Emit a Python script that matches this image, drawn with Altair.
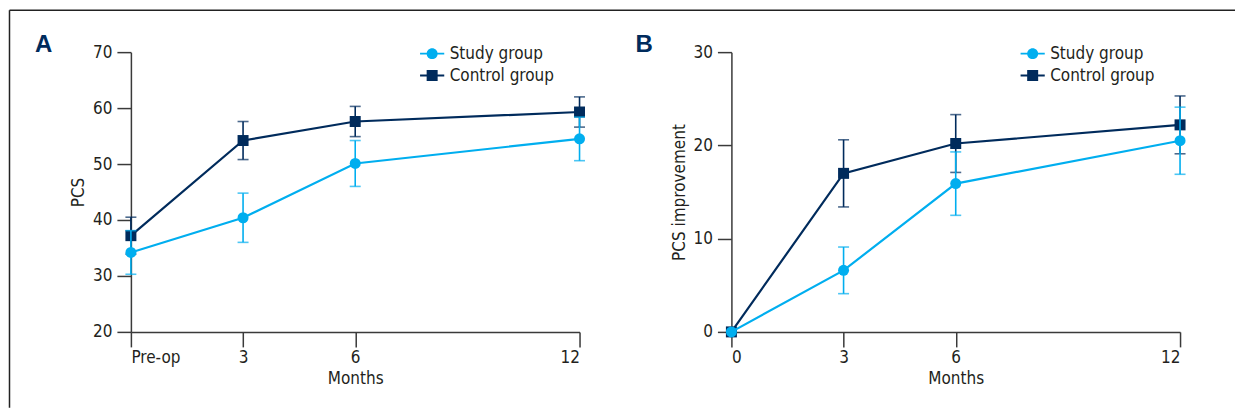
import altair as alt
import pandas as pd

# ---------------- data ----------------
months = [0, 3, 6, 12]
groups = ["Study group", "Control group"]

x_labels_A = ["Pre-op", "3", "6", "12"]
x_labels_B = ["0", "3", "6", "12"]
y_ticks_A = [20, 30, 40, 50, 60, 70]
y_ticks_B = [0, 10, 20, 30]

study_A = [34.2, 40.4, 50.1, 54.5]
study_A_err = [3.9, 4.4, 4.1, 3.9]
control_A = [37.2, 54.2, 57.6, 59.3]
control_A_err = [3.3, 3.4, 2.7, 2.7]

study_B = [0.0, 6.6, 15.9, 20.5]
study_B_err = [0.0, 2.5, 3.4, 3.6]
control_B = [0.0, 17.0, 20.2, 22.2]
control_B_err = [0.0, 3.6, 3.1, 3.1]

# ---------------- style ----------------
FONT = "'Liberation Sans Narrow', 'Noto Sans Condensed', 'DejaVu Sans Condensed', sans-serif"
FS = 17
NAVY = "#002b5c"
CYAN = "#00aeef"
AXIS = "#3a3a3a"
TEXT = "#231f20"
W, H = 449, 280

# legend symbols: line with marker (custom SVG paths)
SYM_CIRCLE = "M-2.2,-0.18H2.2V0.18H-2.2Z M1,0A1,1,0,1,1,-1,0A1,1,0,1,1,1,0Z"
SYM_SQUARE = "M-2.2,-0.18H2.2V0.18H-2.2Z M-1,-1H1V1H-1Z"


def make_df(s, se, c, ce):
    rows = []
    for g, vals, errs in ((groups[0], s, se), (groups[1], c, ce)):
        for m, v, e in zip(months, vals, errs):
            rows.append({"month": m, "value": v, "err": e, "lo": v - e, "hi": v + e, "group": g})
    return pd.DataFrame(rows)


def label_expr(labels):
    expr = "''"
    for m, lab in reversed(list(zip(months, labels))):
        expr = f"datum.value == {m} ? '{lab}' : ({expr})"
    return expr


def legend_def():
    return alt.Legend(orient="none", legendX=293, legendY=-7, title=None,
                      labelFont=FONT, labelFontSize=FS, labelColor=TEXT,
                      symbolSize=121, symbolStrokeWidth=0, labelOffset=9,
                      rowPadding=4, padding=0)


def panel(df, ydom, yticks, ytitle, xlabels, letter, border):
    xenc = alt.X(
        "month:Q",
        scale=alt.Scale(domain=[0, 12], nice=False, zero=False),
        axis=alt.Axis(values=months, labelExpr=label_expr(xlabels), title="Months",
                      tickSize=15, labelPadding=3, titlePadding=5),
    )
    yaxis = alt.Axis(values=yticks, title=ytitle, tickSize=14, labelPadding=5,
                     titlePadding=7, minExtent=36, maxExtent=36)
    yscale = alt.Scale(domain=ydom, nice=False, zero=False)
    cscale = alt.Scale(domain=groups, range=[CYAN, NAVY])
    color = alt.Color("group:N", scale=cscale, legend=None)

    base = alt.Chart(df).encode(x=xenc, y=alt.Y("value:Q", scale=yscale, axis=yaxis), color=color)

    # legend-only layer first (so its legend settings win the merge)
    legend_layer = base.transform_filter("false").mark_point(filled=True, opacity=1).encode(
        color=alt.Color("group:N", scale=cscale, legend=legend_def()),
        shape=alt.Shape("group:N", scale=alt.Scale(domain=groups, range=[SYM_CIRCLE, SYM_SQUARE]),
                        legend=legend_def()),
    )
    layers = [legend_layer]

    for g, shape in ((groups[1], "square"), (groups[0], "circle")):
        sub = base.transform_filter(alt.datum.group == g)
        err = sub.transform_filter(alt.datum.err > 0)
        layers.append(err.mark_rule(strokeWidth=1.6).encode(
            y=alt.Y("lo:Q", scale=yscale, axis=yaxis), y2="hi:Q"))
        layers.append(err.mark_tick(orient="horizontal", size=11, thickness=1.6).encode(
            y=alt.Y("lo:Q", scale=yscale, axis=yaxis)))
        layers.append(err.mark_tick(orient="horizontal", size=11, thickness=1.6).encode(
            y=alt.Y("hi:Q", scale=yscale, axis=yaxis)))
        layers.append(sub.mark_line(strokeWidth=2.2))
        layers.append(sub.mark_point(filled=True, shape=shape, size=121, opacity=1))

    one = pd.DataFrame({"k": [letter]})
    layers.append(alt.Chart(one).mark_text(fontSize=24, fontWeight="bold", color=NAVY, align="left",
                                           baseline="alphabetic", font="Liberation Sans, Arial, sans-serif").encode(
        x=alt.value(-96), y=alt.value(0), text="k:N"))

    if border:
        layers.append(alt.Chart(one).mark_rule(color="#222222", strokeWidth=1.5).encode(
            x=alt.value(-121.5), y=alt.value(-42), y2=alt.value(356)))
        layers.append(alt.Chart(one).mark_rule(color="#222222", strokeWidth=1.5).encode(
            x=alt.value(-121.5), x2=alt.value(1105), y=alt.value(-42)))

    return alt.layer(*layers).properties(width=W, height=H)


dfA = make_df(study_A, study_A_err, control_A, control_A_err)
dfB = make_df(study_B, study_B_err, control_B, control_B_err)

pA = panel(dfA, [20, 70], y_ticks_A, "PCS", x_labels_A, "A", True)
pB = panel(dfB, [0, 30], y_ticks_B, "PCS improvement", x_labels_B, "B", False)

chart = (
    alt.hconcat(pA, pB, spacing=152, bounds="flush")
    .resolve_scale(x="independent", y="independent", color="independent", shape="independent")
    .resolve_legend(color="independent", shape="independent")
    .properties(padding={"left": 0, "top": 1, "right": 0, "bottom": 0}, background="white")
    .configure_view(stroke=None)
    .configure_axis(
        grid=False, domainColor=AXIS, domainWidth=1.5, tickColor=AXIS, tickWidth=1.5,
        labelFont=FONT, labelFontSize=FS, labelColor=TEXT, titleFont=FONT, titleFontSize=FS,
        titleFontWeight="normal", titleColor=TEXT,
    )
)

chart.save("out.html", embed_options={"renderer": "svg", "actions": False})
